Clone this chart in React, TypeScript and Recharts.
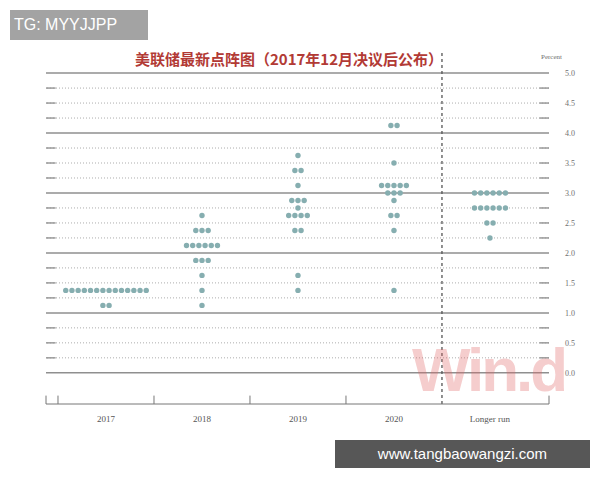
import {
  ComposedChart,
  Scatter,
  XAxis,
  YAxis,
  ReferenceLine,
} from "recharts";

// FOMC dot plot, December 2017
const years = ["2017", "2018", "2019", "2020", "Longer run"];

// rate levels and how many participants put a dot there
const rates2017 = [1.375, 1.125];
const counts2017 = [14, 2];

const rates2018 = [2.625, 2.375, 2.125, 1.875, 1.625, 1.375, 1.125];
const counts2018 = [1, 3, 6, 3, 1, 1, 1];

const rates2019 = [3.625, 3.375, 3.125, 2.875, 2.75, 2.625, 2.375, 1.625, 1.375];
const counts2019 = [1, 2, 1, 3, 1, 4, 2, 1, 1];

const rates2020 = [4.125, 3.5, 3.125, 3.0, 2.875, 2.625, 2.375, 1.375];
const counts2020 = [2, 1, 5, 3, 1, 2, 1, 1];

const ratesLong = [3.0, 2.75, 2.5, 2.25];
const countsLong = [6, 6, 2, 1];

const yLabels = [0, 0.5, 1, 1.5, 2, 2.5, 3, 3.5, 4, 4.5, 5];
const gridLevels = Array.from({ length: 21 }, (_, i) => i * 0.25);
const bracketTicks = [-0.625, -0.5, 0.5, 1.5, 2.5, 4.615];

const X_MIN = -0.625;
const X_MAX = 4.615;
const Y_MIN = -0.52;
const Y_MAX = 5.385;
const DOT_STEP = 0.0645; // horizontal gap between dots, in category units

const columns = [
  [rates2017, counts2017],
  [rates2018, counts2018],
  [rates2019, counts2019],
  [rates2020, counts2020],
  [ratesLong, countsLong],
];

const dots: { x: number; y: number }[] = [];
columns.forEach(([rates, counts], col) => {
  rates.forEach((rate, i) => {
    const n = counts[i];
    for (let j = 0; j < n; j++) {
      dots.push({ x: col + (j - (n - 1) / 2) * DOT_STEP, y: rate });
    }
  });
});

const serif = "'Liberation Serif', 'DejaVu Serif', serif";

function Dot(props: any) {
  const { cx, cy } = props;
  if (cx == null || cy == null) return null;
  return <circle cx={cx} cy={cy} r={2.7} fill="#86aeb0" />;
}

function RightTick(props: any) {
  const { x, y, payload } = props;
  return (
    <text
      x={x + 8}
      y={y}
      dy={3}
      fontSize={8}
      fill="#707070"
      fontFamily={serif}
      textAnchor="start"
    >
      {payload.value.toFixed(1)}
    </text>
  );
}

function BottomTick(props: any) {
  const { x, y, payload } = props;
  return (
    <text
      x={x}
      y={y + 10}
      fontSize={9}
      fill="#555"
      fontFamily={serif}
      textAnchor="middle"
    >
      {years[payload.value]}
    </text>
  );
}

export default function App() {
  return (
    <div
      style={{
        position: "absolute",
        left: 0,
        top: 0,
        width: 600,
        height: 480,
        background: "#ffffff",
        overflow: "hidden",
      }}
    >
      <ComposedChart
        width={600}
        height={480}
        data={dots}
        margin={{ top: 50, right: 11, bottom: 46, left: 46 }}
      >
        <XAxis
          dataKey="x"
          type="number"
          domain={[X_MIN, X_MAX]}
          allowDataOverflow
          ticks={[0, 1, 2, 3, 4]}
          tickLine={false}
          axisLine={{ stroke: "#777", strokeWidth: 1 }}
          tick={<BottomTick />}
          height={30}
        />
        <YAxis
          dataKey="y"
          type="number"
          orientation="right"
          domain={[Y_MIN, Y_MAX]}
          allowDataOverflow
          ticks={yLabels}
          axisLine={false}
          tickLine={false}
          width={40}
          tick={<RightTick />}
        />
        {gridLevels.map((v) =>
          Number.isInteger(v) ? (
            <ReferenceLine key={v} y={v} stroke="#8f8f8f" strokeWidth={1.5} />
          ) : (
            <ReferenceLine
              key={v}
              y={v}
              stroke="#adadad"
              strokeDasharray="1 2"
            />
          )
        )}
        {gridLevels
          .filter((v) => !Number.isInteger(v))
          .map((v) => (
            <ReferenceLine
              key={"l" + v}
              segment={[
                { x: X_MIN, y: v },
                { x: X_MIN + 0.1, y: v },
              ]}
              stroke="#999"
              strokeWidth={1.5}
            />
          ))}
        {gridLevels
          .filter((v) => !Number.isInteger(v))
          .map((v) => (
            <ReferenceLine
              key={"r" + v}
              segment={[
                { x: X_MAX - 0.1, y: v },
                { x: X_MAX, y: v },
              ]}
              stroke="#999"
              strokeWidth={1.5}
            />
          ))}
        {bracketTicks.map((x) => (
          <ReferenceLine
            key={"t" + x}
            segment={[
              { x, y: Y_MIN },
              { x, y: Y_MIN + 0.14 },
            ]}
            stroke="#777"
          />
        ))}
        <ReferenceLine
          x={3.5}
          stroke="#555"
          strokeWidth={1.3}
          strokeDasharray="3 3"
        />
        <Scatter dataKey="y" shape={<Dot />} isAnimationActive={false} />
      </ComposedChart>

      <div
        style={{
          position: "absolute",
          left: 0,
          width: 578,
          top: 48,
          textAlign: "center",
          fontFamily: "'Noto Sans CJK SC', sans-serif",
          fontWeight: 700,
          fontSize: 15,
          color: "#b23a35",
          whiteSpace: "nowrap",
        }}
      >
        美联储最新点阵图（2017年12月决议后公布）
      </div>
      <div
        style={{
          position: "absolute",
          left: 541,
          top: 53,
          fontFamily: serif,
          fontSize: 7,
          color: "#707070",
        }}
      >
        Percent
      </div>
      <div
        style={{
          position: "absolute",
          left: 412,
          top: 334,
          fontFamily: "'Liberation Sans', Arial, sans-serif",
          fontWeight: 700,
          fontSize: 62,
          letterSpacing: -3,
          color: "rgba(225, 100, 100, 0.32)",
          whiteSpace: "nowrap",
        }}
      >
        Win.d
      </div>
      <div
        style={{
          position: "absolute",
          left: 10,
          top: 10,
          width: 138,
          height: 30,
          background: "#a3a3a3",
          color: "#fff",
          fontFamily: "'Liberation Sans', Arial, sans-serif",
          fontSize: 16,
          lineHeight: "30px",
          paddingLeft: 4,
          boxSizing: "border-box",
        }}
      >
        TG: MYYJJPP
      </div>
      <div
        style={{
          position: "absolute",
          left: 335,
          top: 440,
          width: 255,
          height: 28,
          background: "#575757",
          color: "#fff",
          fontFamily: "'Liberation Sans', Arial, sans-serif",
          fontSize: 15,
          lineHeight: "28px",
          textAlign: "center",
        }}
      >
        www.tangbaowangzi.com
      </div>
    </div>
  );
}
